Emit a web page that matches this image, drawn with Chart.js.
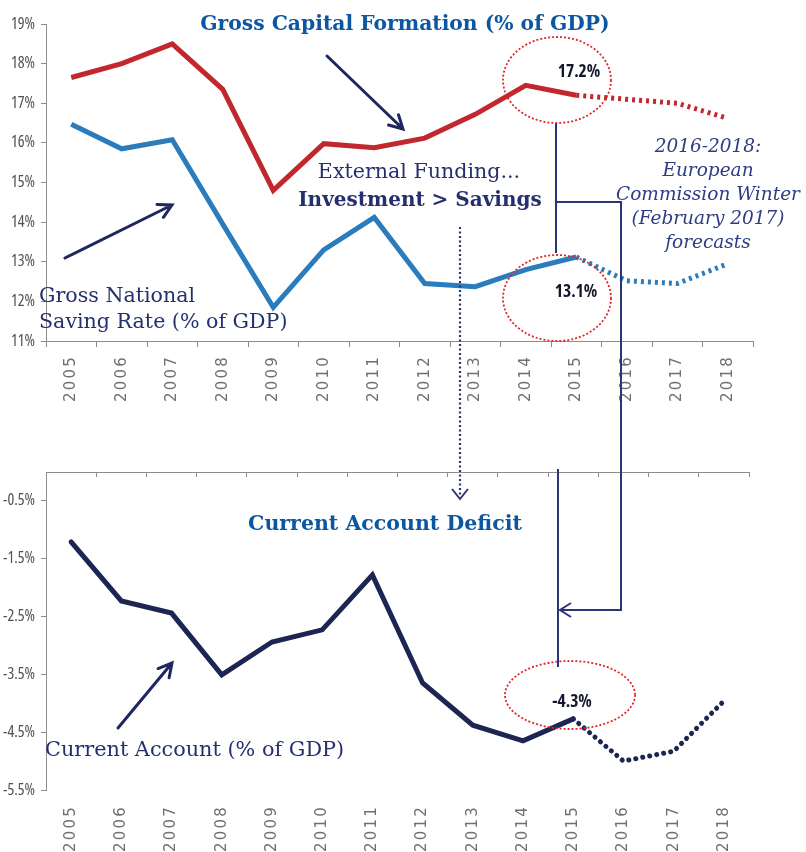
<!DOCTYPE html>
<html>
<head>
<meta charset="utf-8">
<script src="https://cdn.jsdelivr.net/npm/chart.js@4"></script>
<style>
  body { margin:0; background:#fff; }
  #wrap { position:relative; width:806px; height:852px; overflow:hidden; background:#fff; }
  canvas { position:absolute; left:0; }
  #topChart { top:0; }
  #bottomChart { top:425px; }
  svg { position:absolute; left:0; top:0; }
</style>
</head>
<body>
<div id="wrap">
  <canvas id="topChart" width="806" height="425"></canvas>
  <canvas id="bottomChart" width="806" height="427"></canvas>
  <svg id="notes" width="806" height="852"></svg>
</div>
<script>
// DATA
const years = ['2005','2006','2007','2008','2009','2010','2011','2012','2013','2014','2015','2016','2017','2018'];
const capitalFormation = [17.65, 18.0, 18.5, 17.35, 14.8, 15.98, 15.88, 16.12, 16.72, 17.45, 17.2, 17.1, 17.0, 16.62];
const savingRate = [16.47, 15.85, 16.08, 13.95, 11.85, 13.3, 14.12, 12.45, 12.37, 12.8, 13.12, 12.52, 12.45, 12.95];
const currentAccount = [-1.21, -2.23, -2.44, -3.51, -2.94, -2.73, -1.78, -3.65, -4.38, -4.65, -4.27, -5.0, -4.83, -3.96];
const topTicks = [11, 12, 13, 14, 15, 16, 17, 18, 19];
const bottomTicks = [-0.5, -1.5, -2.5, -3.5, -4.5, -5.5];
const forecastFrom = 10; // 2015 -> 2018 are EC forecasts

const axisGrey = '#8c8c8c';

// pick a narrow sans for tick / value labels (whatever is installed)
const probe = document.createElement('canvas').getContext('2d');
function widthOf(weight, family){ probe.font = weight + ' 16px ' + family; return probe.measureText('19%').width; }
const narrowCandidates = [
  ['normal', "'Liberation Sans Narrow'"],
  ['normal', "'DejaVu Sans Condensed'"],
  ['normal', "'Open Sans Condensed'"],
  ['condensed', "'Open Sans'"],
  ['condensed', "'Noto Sans'"],
  ['condensed', "Roboto"],
  ['condensed', "'DejaVu Sans'"],
  ['normal', "'Liberation Sans'"]
];
let best = narrowCandidates[narrowCandidates.length - 1], bestW = Infinity;
narrowCandidates.forEach(c => { const w = widthOf(c[0], c[1]); if(w < bestW - 0.5){ bestW = w; best = c; } });
const narrowOK = bestW < 28;
const tickFont = { family: best[1] + ", 'Liberation Sans', sans-serif", size: narrowOK ? 16 : 15, weight: best[0] };
const tickSpacing = narrowOK ? '0px' : '-1.2px';
const yearFont = { family: "'DejaVu Sans', sans-serif", size: 15 };

// letter spacing per axis (wide year labels, tight % labels)
const spacing = {
  id: 'spacing',
  beforeDraw(chart){
    [['x', '2.2px'], ['y', tickSpacing]].forEach(([id, ls]) => {
      const sc = chart.scales[id];
      if(sc && !sc._spaced){
        const orig = sc.drawLabels;
        sc.drawLabels = function(area){
          const c = this.ctx;
          c.save();
          c.letterSpacing = ls;
          orig.call(this, area);
          c.restore();
        };
        sc._spaced = true;
      }
    });
  }
};

function dashed(pattern){
  return { borderDash: c => c.p0DataIndex >= forecastFrom ? pattern : undefined };
}

// TOP CHART
new Chart(document.getElementById('topChart'), {
  type: 'line',
  data: {
    labels: years,
    datasets: [{
      label: 'Gross Capital Formation (% of GDP)',
      data: capitalFormation,
      borderColor: '#c1272d',
      borderWidth: 5,
      pointRadius: 0,
      segment: dashed([3, 4])
    },{
      label: 'Gross National Saving Rate (% of GDP)',
      data: savingRate,
      borderColor: '#2a7cbc',
      borderWidth: 5,
      pointRadius: 0,
      segment: dashed([3, 4])
    }]
  },
  options: {
    responsive: false,
    animation: false,
    layout: { padding: { top: 24, right: 53, left: 0, bottom: 0 } },
    plugins: { legend: { display: false }, tooltip: { enabled: false } },
    scales: {
      x: {
        offset: true,
        grid: { offset: true, drawOnChartArea: false, tickLength: 6, color: axisGrey },
        border: { color: axisGrey },
        ticks: { minRotation: 90, maxRotation: 90, autoSkip: false, padding: 8, color: '#707070', font: yearFont },
        afterFit: s => { s.height = 84; }
      },
      y: {
        min: 11, max: 19,
        afterBuildTicks: s => { s.ticks = topTicks.map(v => ({ value: v })); },
        grid: { drawOnChartArea: false, tickLength: 5, color: axisGrey },
        border: { color: axisGrey },
        ticks: { padding: 6, color: '#505050', font: tickFont, callback: v => v + '%' },
        afterFit: s => { s.width = 46; }
      }
    }
  },
  plugins: [spacing]
});

// BOTTOM CHART
new Chart(document.getElementById('bottomChart'), {
  type: 'line',
  data: {
    labels: years,
    datasets: [{
      label: 'Current Account (% of GDP)',
      data: currentAccount,
      borderColor: '#1d2553',
      borderWidth: 5,
      borderCapStyle: 'round',
      pointRadius: 0,
      segment: dashed([0.1, 7])
    }]
  },
  options: {
    responsive: false,
    animation: false,
    layout: { padding: { top: 47, right: 57, left: 0, bottom: 0 } },
    plugins: { legend: { display: false }, tooltip: { enabled: false } },
    scales: {
      x: {
        offset: true,
        grid: { display: false, drawTicks: false },
        border: { display: false },
        ticks: { minRotation: 90, maxRotation: 90, autoSkip: false, padding: 15, color: '#707070', font: yearFont },
        afterFit: s => { s.height = 62; }
      },
      // zero line along the top, ticks pointing down
      x2: {
        type: 'category',
        position: 'top',
        offset: true,
        grid: { offset: true, drawOnChartArea: false, tickLength: -5, color: axisGrey },
        border: { color: axisGrey },
        ticks: { display: false },
        afterFit: s => { s.height = 0; }
      },
      y: {
        min: -5.5, max: 0,
        afterBuildTicks: s => { s.ticks = bottomTicks.map(v => ({ value: v })); },
        grid: { drawOnChartArea: false, tickLength: 5, color: axisGrey },
        border: { color: axisGrey },
        ticks: { padding: 6, color: '#505050', font: tickFont, callback: v => v.toFixed(1) + '%' },
        afterFit: s => { s.width = 46; }
      }
    }
  },
  plugins: [spacing]
});

// ANNOTATIONS
const svg = document.getElementById('notes');
const NS = 'http://www.w3.org/2000/svg';
function el(tag, attrs, text){
  const e = document.createElementNS(NS, tag);
  for(const k in attrs) e.setAttribute(k, attrs[k]);
  if(text) e.textContent = text;
  svg.appendChild(e);
  return e;
}
function arrow(x1, y1, x2, y2, size, color, width){
  const a = Math.atan2(y2 - y1, x2 - x1);
  const h1 = [x2 - size*Math.cos(a - 0.5), y2 - size*Math.sin(a - 0.5)];
  const h2 = [x2 - size*Math.cos(a + 0.5), y2 - size*Math.sin(a + 0.5)];
  el('path', { d: `M${x1},${y1} L${x2},${y2} M${h1[0]},${h1[1]} L${x2},${y2} L${h2[0]},${h2[1]}`,
    stroke: color, 'stroke-width': width, fill: 'none', 'stroke-linecap': 'round' });
}
const navy = '#24306e';
const serif = "'DejaVu Serif', serif";

// connector lines
el('path', { d: 'M556,123 V253 M556,202 H621 V610 H560 M558,469 V667', stroke: '#2b3575', 'stroke-width': 2, fill: 'none' });
el('path', { d: 'M571,603 L560,610 L571,617', stroke: '#2b3575', 'stroke-width': 2, fill: 'none' });
el('path', { d: 'M460,227 V498', stroke: '#2b3575', 'stroke-width': 2.2, 'stroke-dasharray': '2 2.5', fill: 'none' });
el('path', { d: 'M452,489 L460,499 L468,489', stroke: '#2b3575', 'stroke-width': 2, fill: 'none' });

// dotted red circles
[[557, 80, 54, 43], [557, 298, 54, 43], [570, 695, 65, 34]].forEach(e => {
  el('ellipse', { cx: e[0], cy: e[1], rx: e[2], ry: e[3], fill: 'none', stroke: '#e0262c', 'stroke-width': 1.8, 'stroke-dasharray': '2 2' });
});

// arrows
arrow(327, 56, 403, 129, 15, '#1f2760', 3);
arrow(65, 258, 172, 205, 15, '#1f2760', 3);
arrow(118, 728, 172, 663, 15, '#1f2760', 3);

// titles
el('text', { x: 405, y: 30, 'text-anchor': 'middle', 'font-family': serif, 'font-weight': 'bold', 'font-size': 20.3, fill: '#0d57a2' }, 'Gross Capital Formation (% of GDP)');
el('text', { x: 385, y: 530, 'text-anchor': 'middle', 'font-family': serif, 'font-weight': 'bold', 'font-size': 20.5, fill: '#0d57a2' }, 'Current Account Deficit');

// side texts
el('text', { x: 419, y: 178, 'text-anchor': 'middle', 'font-family': serif, 'font-size': 20.6, fill: navy }, 'External Funding...');
el('text', { x: 420, y: 206, 'text-anchor': 'middle', 'font-family': serif, 'font-weight': 'bold', 'font-size': 20, fill: navy }, 'Investment > Savings');
el('text', { x: 39, y: 302, 'font-family': serif, 'font-size': 20.6, fill: navy }, 'Gross National');
el('text', { x: 39, y: 328, 'font-family': serif, 'font-size': 20.6, fill: navy }, 'Saving Rate (% of GDP)');
el('text', { x: 45, y: 756, 'font-family': serif, 'font-size': 20.8, fill: navy }, 'Current Account (% of GDP)');
['2016-2018:', 'European', 'Commission Winter', '(February 2017)', 'forecasts'].forEach((t, i) => {
  el('text', { x: 708, y: 152 + i*24, 'text-anchor': 'middle', 'font-family': serif, 'font-style': 'italic', 'font-size': 18.5, fill: '#2e3c84' }, t);
});

// value labels
const vAttrs = { 'text-anchor': 'middle', 'font-family': best[1] + ", sans-serif", 'font-weight': 'bold', 'font-size': narrowOK ? 17.5 : 15, fill: '#15172e' };
if(best[0] === 'condensed') vAttrs['font-stretch'] = 'condensed';
if(!narrowOK) vAttrs['letter-spacing'] = '-1';
el('text', Object.assign({ x: 579, y: 77 }, vAttrs), '17.2%');
el('text', Object.assign({ x: 576, y: 297 }, vAttrs), '13.1%');
el('text', Object.assign({ x: 572, y: 707 }, vAttrs), '-4.3%');
</script>
</body>
</html>
